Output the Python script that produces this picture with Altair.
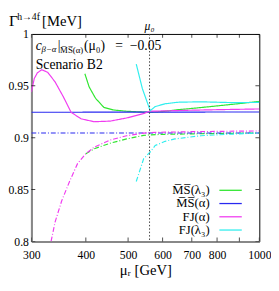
import altair as alt
import pandas as pd

# ---------------- data ----------------
mu_msl3 = [398, 407, 421, 440, 463, 496, 543, 560, 600, 650, 700, 773, 850, 920, 1000]
g_msl3 = [0.9616, 0.949, 0.938, 0.9292, 0.9267, 0.9255, 0.9247, 0.9245, 0.9252, 0.927, 0.9282, 0.930, 0.9318, 0.9333, 0.935]

mu_msl3_d = [400, 418, 455, 496, 543, 560, 600, 700, 800, 900, 1000]
g_msl3_d = [0.8846, 0.8893, 0.8947, 0.8988, 0.9022, 0.9027, 0.9032, 0.9037, 0.904, 0.9043, 0.9045]

mu_msa = [300, 1000]
g_msa = [0.9245, 0.9248]
mu_msa_d = [300, 1000]
g_msa_d = [0.9045, 0.9045]

mu_fja = [300, 304.6, 309.7, 317, 327, 340, 355, 370, 390, 418, 455, 496, 543, 560, 700, 850, 1000]
g_fja = [0.944, 0.957, 0.9626, 0.9655, 0.963, 0.9538, 0.9396, 0.9245, 0.9182, 0.9154, 0.916, 0.919, 0.9233, 0.9255, 0.9265, 0.9272, 0.9277]

mu_fja_d = [332.9, 340, 352, 367, 383, 400, 418, 455, 496, 543, 560, 700, 850, 1000]
g_fja_d = [0.8, 0.8186, 0.839, 0.8578, 0.8752, 0.8846, 0.8909, 0.8978, 0.9019, 0.9044, 0.9050, 0.9058, 0.9062, 0.9065]

mu_fjl3 = [522, 539, 562, 577, 608, 651, 734, 871, 1000]
g_fjl3 = [0.971, 0.9475, 0.926, 0.9300, 0.9327, 0.9342, 0.9346, 0.9338, 0.934]

mu_fjl3_d = [522, 543, 562, 577, 608, 640, 734, 871, 1000]
g_fjl3_d = [0.8578, 0.8799, 0.8862, 0.8925, 0.8965, 0.8988, 0.9019, 0.9035, 0.9045]

series_names = ["MS(λ3)", "MS(α)", "FJ(α)", "FJ(λ3)"]
series_colors = ["#2ee62e", "#2828f0", "#f03cf0", "#30eeee"]
legend_labels = ["M\u0305S\u0305(λ\u2083)", "M\u0305S\u0305(α)", "FJ(α)", "FJ(λ\u2083)"]

x_ticks = [300, 400, 500, 600, 700, 800, 900, 1000]
x_labels = [300, 400, 500, 600, 700, 800, 1000]
y_ticks = [0.8, 0.85, 0.9, 0.95, 1.0]
mu0 = 560

# ---------------- build table ----------------
rows = []
def add(name, style, xs, ys):
    for i, (a, b) in enumerate(zip(xs, ys)):
        rows.append({"mu": a, "g": b, "series": name, "style": style, "key": name + style, "i": i})

add("MS(λ3)", "solid", mu_msl3, g_msl3)
add("MS(λ3)", "dash", mu_msl3_d, g_msl3_d)
add("MS(α)", "solid", mu_msa, g_msa)
add("MS(α)", "dash", mu_msa_d, g_msa_d)
add("FJ(α)", "solid", mu_fja, g_fja)
add("FJ(α)", "dash", mu_fja_d, g_fja_d)
add("FJ(λ3)", "solid", mu_fjl3, g_fjl3)
add("FJ(λ3)", "dash", mu_fjl3_d, g_fjl3_d)
df = pd.DataFrame(rows)

FONT = "Liberation Serif"
W, H = 234, 213

xscale = alt.Scale(type="log", domain=[300, 1000], nice=False)
yscale = alt.Scale(domain=[0.8, 1.0], nice=False, zero=False)

lines = alt.Chart(df).mark_line(strokeWidth=1.2, clip=True).encode(
    x=alt.X("mu:Q", scale=xscale,
            axis=alt.Axis(values=x_labels, format="d", tickSize=0, grid=False,
                          domainColor="#888888", domainWidth=2,
                          labelFont=FONT, labelFontSize=12, labelPadding=9,
                          labelColor="black", labelFlush=False,
                          title="μᵣ [GeV]", titleFont=FONT, titleFontSize=15,
                          titleFontWeight="normal", titlePadding=2, titleColor="black")),
    y=alt.Y("g:Q", scale=yscale,
            axis=alt.Axis(values=y_ticks, labelExpr="format(datum.value, '~g')",
                          tickSize=0, grid=False, domainColor="#888888", domainWidth=2,
                          labelFont=FONT, labelFontSize=12, labelPadding=3,
                          labelColor="black", title=None)),
    color=alt.Color("series:N", scale=alt.Scale(domain=series_names, range=series_colors), legend=None),
    strokeDash=alt.StrokeDash("style:N", scale=alt.Scale(domain=["solid", "dash"], range=[[1, 0], [5, 2, 1, 2]]), legend=None),
    detail="key:N",
    order="i:Q",
)

mu0_rule = alt.Chart(pd.DataFrame({"mu": [mu0]})).mark_rule(
    color="#444444", strokeDash=[1.5, 2], strokeWidth=1).encode(x=alt.X("mu:Q", scale=xscale))

mu0_text = alt.Chart(pd.DataFrame({"mu": [mu0], "t": ["μ₀"]})).mark_text(
    font=FONT, fontSize=12, fontStyle="italic", baseline="middle", align="center").encode(
    x=alt.X("mu:Q", scale=xscale), y=alt.value(-8), text="t:N")

tdf_x = pd.DataFrame({"mu": x_ticks})
tdf_y = pd.DataFrame({"g": y_ticks})
xt_bot = alt.Chart(tdf_x).mark_tick(size=8, thickness=1, color="black", clip=True).encode(
    x=alt.X("mu:Q", scale=xscale), y=alt.value(H))
xt_top = alt.Chart(tdf_x).mark_tick(size=8, thickness=1, color="black", clip=True).encode(
    x=alt.X("mu:Q", scale=xscale), y=alt.value(0))
yt_left = alt.Chart(tdf_y).mark_tick(size=8, thickness=1, color="black", clip=True).encode(
    y=alt.Y("g:Q", scale=yscale), x=alt.value(0))
yt_right = alt.Chart(tdf_y).mark_tick(size=8, thickness=1, color="black", clip=True).encode(
    y=alt.Y("g:Q", scale=yscale), x=alt.value(W))

def txt(s, x, y, size, style="normal", align="left"):
    return alt.Chart(pd.DataFrame({"t": [s]})).mark_text(
        font=FONT, fontSize=size, fontStyle=style, align=align, baseline="middle",
        color="black").encode(x=alt.value(x), y=alt.value(y), text="t:N")

texts = [
    txt("Γ", -23, -13.5, 16),
    txt("h→4f", -14.5, -17.5, 10),
    txt("[MeV]", 11, -13, 15),
    txt("c", 4.5, 12, 14, "italic"),
    txt("β−α", 10.5, 15.5, 9, "italic"),
    txt("|", 27, 12, 14),
    txt("M\u0305S\u0305(α)", 29.5, 16.5, 9),
    txt("(μ₀)", 54, 12, 14),
    txt("=", 86, 12, 14),
    txt("−0.05", 101, 12, 14),
    txt("Scenario B2", 4.5, 32, 14),
]

legend_layers = []
for i, (lab, col) in enumerate(zip(legend_labels, series_colors)):
    yy = 160.5 + 13.6 * i
    legend_layers.append(txt(lab, 183, yy, 13, align="right"))
    legend_layers.append(
        alt.Chart(pd.DataFrame({"a": [0]})).mark_rule(color=col, strokeWidth=1.3).encode(
            x=alt.value(193), x2=alt.value(216), y=alt.value(yy)))

chart = alt.layer(lines, mu0_rule, xt_bot, xt_top, yt_left, yt_right, mu0_text,
                  *texts, *legend_layers).properties(
    width=W, height=H,
    padding={"left": 24, "top": 23, "right": 12, "bottom": 38},
    autosize=alt.AutoSizeParams(type="none"),
    background="white",
).configure_view(stroke="black", strokeWidth=1)

chart.save("out.html", embed_options={"renderer": "svg", "actions": False})
